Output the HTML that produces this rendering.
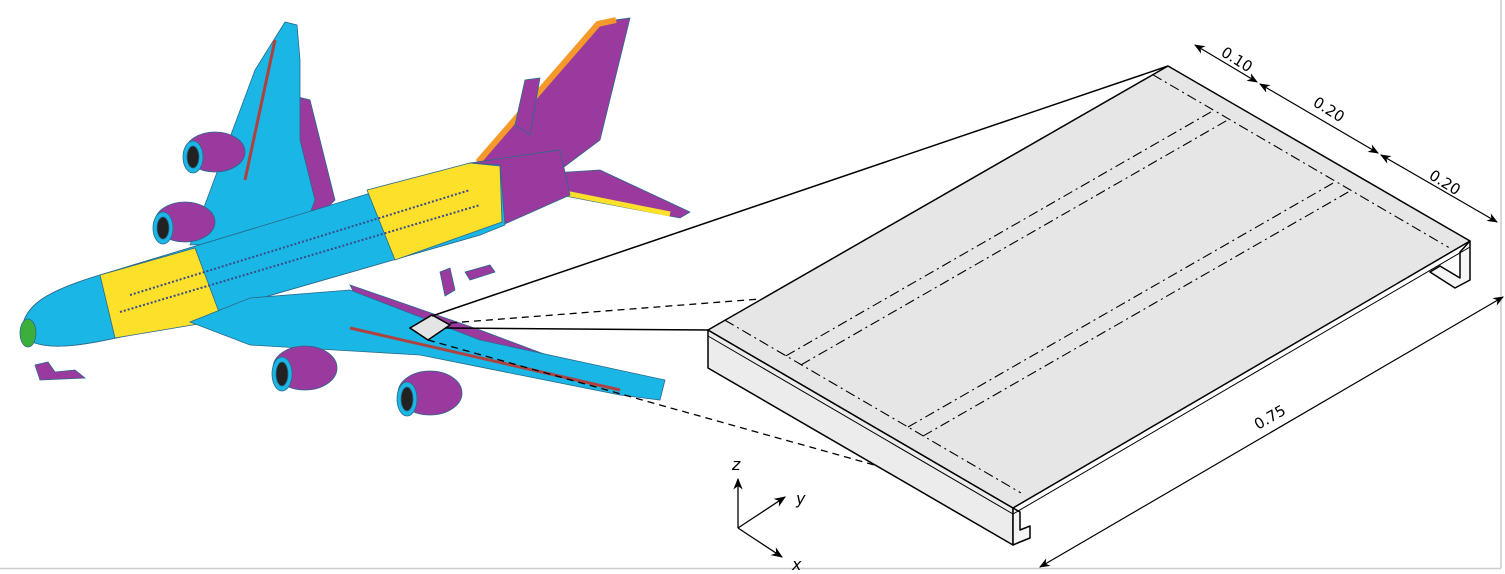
<!DOCTYPE html>
<html><head><meta charset="utf-8"><style>
html,body{margin:0;padding:0;background:#fff;}
svg{display:block;font-family:"DejaVu Sans","Liberation Sans",sans-serif;}
</style></head><body>
<svg width="1505" height="574" viewBox="0 0 1505 574">
<defs>
<marker id="ah" viewBox="0 0 10 10" refX="9" refY="5" markerWidth="9" markerHeight="9" orient="auto-start-reverse"><path d="M0,1 L10,5 L0,9 L3,5 z" fill="#000"/></marker>
</defs>
<line x1="1501" y1="0" x2="1501" y2="568" stroke="#ccc" stroke-width="1.5"/>
<line x1="0" y1="568.5" x2="1501" y2="568.5" stroke="#ccc" stroke-width="1.5"/>

<g stroke="#2a6a8a" stroke-width="0.8">
 <!-- far wing -->
 <polygon points="290,95 310,100 335,200 305,230 285,150" fill="#9b3a9e"/>
 <polygon points="190,245 255,70 285,22 297,25 300,60 300,140 315,200 300,240" fill="#19b6e6"/>
 <line x1="275" y1="40" x2="245" y2="180" stroke="#b0413e" stroke-width="3"/>
 <!-- engines far -->
 <g><ellipse cx="215" cy="152" rx="30" ry="20" fill="#9b3a9e"/><ellipse cx="193" cy="157" rx="10" ry="16" fill="#19b6e6"/><ellipse cx="193" cy="157" rx="6" ry="11" fill="#222"/></g>
 <g><ellipse cx="185" cy="222" rx="30" ry="20" fill="#9b3a9e"/><ellipse cx="163" cy="228" rx="10" ry="16" fill="#19b6e6"/><ellipse cx="163" cy="228" rx="6" ry="11" fill="#222"/></g>
 <!-- vertical tail -->
 <polygon points="475,165 600,22 630,18 600,140 560,170" fill="#9b3a9e"/>
 <polyline points="478,162 598,24 616,20" fill="none" stroke="#f59a2a" stroke-width="6"/>
 <polygon points="515,125 525,80 540,78 530,135" fill="#9b3a9e"/>
 <!-- horizontal stabilizer -->
 <polygon points="520,175 600,170 690,212 680,218 560,195" fill="#9b3a9e"/>
 <line x1="540" y1="188" x2="670" y2="214" stroke="#fde02a" stroke-width="5"/>
 <!-- fuselage -->
 <path d="M22,335 C20,305 50,290 100,275 L470,163 L560,150 L570,195 L480,235 L150,330 C90,345 40,355 22,335 z" fill="#9b3a9e"/>
 <path d="M22,335 C20,305 50,290 100,275 L470,163 L500,165 L505,225 L480,235 L150,330 C90,345 40,355 22,335 z" fill="#19b6e6"/>
 <polygon points="100,275 195,248 222,320 115,338" fill="#fde02a"/>
 <polygon points="367,190 470,163 500,166 502,222 395,260" fill="#fde02a"/>
 <ellipse cx="28" cy="333" rx="8" ry="14" fill="#3cae3c"/>
 <line x1="120" y1="312" x2="480" y2="205" stroke="#3a4a8a" stroke-width="2" stroke-dasharray="2 2"/>
 <line x1="130" y1="295" x2="470" y2="190" stroke="#3a4a8a" stroke-width="2" stroke-dasharray="2 2"/>
 <!-- near wing -->
 <polygon points="350,285 480,330 560,360 640,382 620,395 470,350 360,305" fill="#9b3a9e"/>
 <polygon points="190,322 250,298 350,290 480,340 665,380 660,400 620,395 420,355 250,345" fill="#19b6e6"/>
 <line x1="350" y1="328" x2="620" y2="390" stroke="#b0413e" stroke-width="3"/>
 <g><ellipse cx="305" cy="368" rx="32" ry="22" fill="#9b3a9e"/><ellipse cx="282" cy="374" rx="10" ry="17" fill="#19b6e6"/><ellipse cx="282" cy="374" rx="6" ry="12" fill="#222"/></g>
 <g><ellipse cx="430" cy="393" rx="32" ry="22" fill="#9b3a9e"/><ellipse cx="407" cy="399" rx="10" ry="17" fill="#19b6e6"/><ellipse cx="407" cy="399" rx="6" ry="12" fill="#222"/></g>
 <polygon points="35,365 48,362 55,372 75,370 85,378 40,380" fill="#9b3a9e"/>
 <polygon points="440,272 450,268 455,290 445,296" fill="#9b3a9e"/>
 <polygon points="465,272 490,265 495,272 470,280" fill="#9b3a9e"/>
</g>

<g stroke="#000" fill="none">
 <polygon points="410,328 432,315 450,325 428,340" fill="#e4e4e4" stroke-width="1.5"/>
 <line x1="432" y1="316" x2="1168" y2="66" stroke-width="1.5"/>
 <line x1="445" y1="328" x2="708" y2="330" stroke-width="1.5"/>
 <line x1="450" y1="323" x2="760" y2="299" stroke-width="1.3" stroke-dasharray="7 5"/>
 <line x1="428" y1="340" x2="878" y2="466" stroke-width="1.3" stroke-dasharray="7 5"/>
</g>

<g stroke="#000" stroke-width="1.5" stroke-linejoin="round">
 <polygon points="708,330 1013,508 1013,545 708,368" fill="#ececec"/>
 <line x1="708" y1="336" x2="1013" y2="514" stroke-width="1"/>
 <polygon points="1470,241 1470,280 1455,288 1430,272 1440,266 1460,278 1460,252" fill="#f4f4f4"/>
 <polygon points="1013,508 1020,512 1020,530 1030,526 1030,538 1020,542 1013,545" fill="#f4f4f4"/>
 <polygon points="708,330 1168,66 1470,241 1013,508" fill="#e6e6e6"/>
 <line x1="1013" y1="514" x2="1470" y2="247" stroke-width="1"/>
 <g id="dd" stroke-width="1.1" stroke-dasharray="10 4 2 4"></g>
</g>

<g stroke="#000" stroke-width="1.2" font-size="15" fill="#000">
 <line x1="1195" y1="45" x2="1257" y2="82" marker-start="url(#ah)" marker-end="url(#ah)"/>
 <line x1="1260" y1="84" x2="1378" y2="153" marker-start="url(#ah)" marker-end="url(#ah)"/>
 <line x1="1381" y1="155" x2="1497" y2="222" marker-start="url(#ah)" marker-end="url(#ah)"/>
 <line x1="1040" y1="567" x2="1503" y2="297" marker-start="url(#ah)" marker-end="url(#ah)"/>
 <text stroke="none" transform="translate(1220,55) rotate(32)">0.10</text>
 <text stroke="none" transform="translate(1312,105) rotate(32)">0.20</text>
 <text stroke="none" transform="translate(1428,178) rotate(32)">0.20</text>
 <text stroke="none" transform="translate(1258,430) rotate(-30)">0.75</text>
</g>

<g stroke="#000" stroke-width="1.3" font-size="16" font-style="italic">
 <line x1="738" y1="528" x2="738" y2="479" marker-end="url(#ah)"/>
 <line x1="738" y1="528" x2="785" y2="497" marker-end="url(#ah)"/>
 <line x1="738" y1="528" x2="782" y2="557" marker-end="url(#ah)"/>
 <text stroke="none" x="732" y="470">z</text>
 <text stroke="none" x="796" y="504">y</text>
 <text stroke="none" x="792" y="570">x</text>
</g>
</svg>
<script>
const L=[708,330], A=[460,-264], B=[305,178];
const endFractions=[0.037,0.967];
const stripFractions=[0.2,0.25,0.6,0.65];
function P(u,v){return [L[0]+v*A[0]+u*B[0], L[1]+v*A[1]+u*B[1]];}
const g=document.getElementById('dd');
function ln(p,q,name){
 const e=document.createElementNS('http://www.w3.org/2000/svg','line');
 e.setAttribute('x1',p[0]);e.setAttribute('y1',p[1]);e.setAttribute('x2',q[0]);e.setAttribute('y2',q[1]);
 
 
 g.appendChild(e);
}
endFractions.forEach(v=>ln(P(0.0,v),P(0.97,v),'end-line'));
stripFractions.forEach(u=>ln(P(u,endFractions[0]),P(u,endFractions[1]),'stiffener-line'));
</script>
</body></html>
